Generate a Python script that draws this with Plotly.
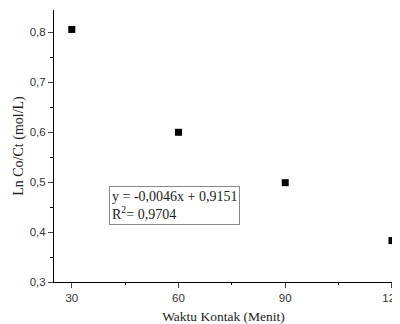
import plotly.graph_objects as go

waktu = [30, 60, 90, 120]
ln_co_ct = [0.806, 0.600, 0.499, 0.383]
x_ticks = [30, 60, 90, 120]
eq_text = "y = -0,0046x + 0,9151<br>R<sup>2</sup>= 0,9704"

fig = go.Figure()
fig.add_trace(go.Scatter(
    x=waktu, y=ln_co_ct, mode="markers",
    marker=dict(symbol="square", size=7, color="black"),
    cliponaxis=True, showlegend=False,
))

fig.add_annotation(
    x=40.4, y=0.493, xref="x", yref="y", xanchor="left", yanchor="top",
    text=eq_text, showarrow=False, align="left",
    font=dict(family="Liberation Serif", size=14, color="#222"),
    bordercolor="#888", borderwidth=1, borderpad=2, bgcolor="white",
)

# page body has an 8px margin, so the figure is sized/offset to compensate
fig.update_layout(
    width=392, height=316,
    margin=dict(l=46, r=7, t=2, b=42),
    plot_bgcolor="white", paper_bgcolor="white",
    separators=", ",
)
fig.update_xaxes(
    range=[25, 120.3], tickvals=x_ticks, ticks="outside", ticklen=5,
    ticklabelstandoff=0, ticklabeloverflow="allow", automargin=False,
    showline=True, linecolor="black", linewidth=1, showgrid=False, zeroline=False,
    minor=dict(dtick=15, tick0=0, ticks="outside", ticklen=2, tickcolor="black"),
    tickfont=dict(family="Liberation Sans", size=11.5, color="#333"),
    title=dict(text="Waktu Kontak (Menit)", standoff=8,
               font=dict(family="Liberation Serif", size=13.5, color="#222")),
)
fig.update_yaxes(
    range=[0.3, 0.845], dtick=0.1, tick0=0.3, tickformat=".1f",
    ticks="outside", ticklen=5, automargin=False,
    showline=True, linecolor="black", linewidth=1, showgrid=False, zeroline=False,
    minor=dict(dtick=0.05, tick0=0.3, ticks="outside", ticklen=3, tickcolor="black"),
    tickfont=dict(family="Liberation Sans", size=11.5, color="#333"),
    title=dict(text="Ln Co/Ct (mol/L)", standoff=2,
               font=dict(family="Liberation Serif", size=14, color="#222")),
)

fig.write_html("out.html")
